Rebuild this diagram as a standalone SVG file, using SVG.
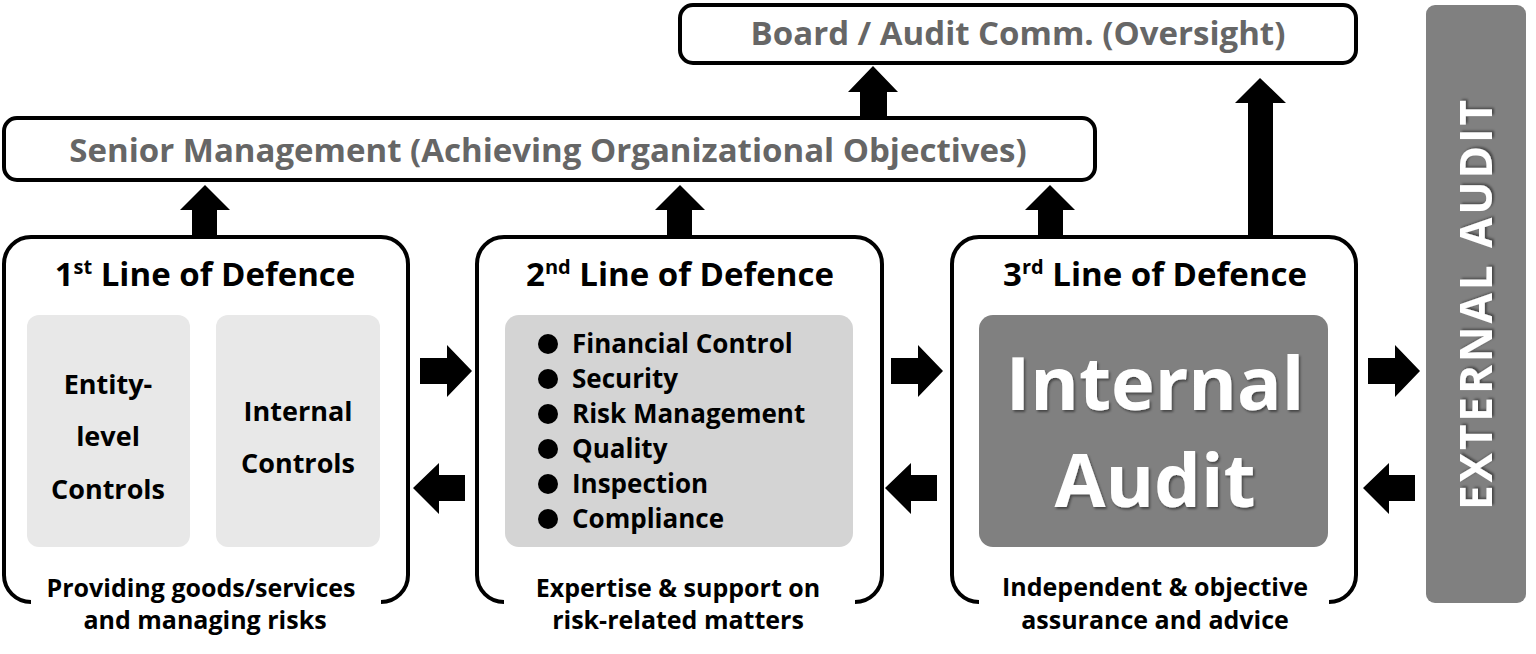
<svg xmlns="http://www.w3.org/2000/svg" width="1536" height="654" viewBox="0 0 1536 654">
<defs>
<style>
.frame{fill:#fff;stroke:#000;stroke-width:4}
.open{fill:none;stroke:#000;stroke-width:4}
.head{font-family:"Open Sans","Liberation Sans",sans-serif;font-weight:700;fill:#666;font-size:33px;text-anchor:middle}
.title{font-family:"Open Sans","Liberation Sans",sans-serif;font-weight:700;fill:#000;font-size:33px;text-anchor:middle}
.sup{font-size:20px}
.body{font-family:"Open Sans","Liberation Sans",sans-serif;font-weight:700;fill:#000;font-size:25px}
.inner{font-size:27px}
.list{font-size:26px}
.mid{text-anchor:middle}
.big{font-family:"Open Sans","Liberation Sans",sans-serif;font-weight:700;fill:#fff;font-size:74px;text-anchor:middle}
.arrow{fill:#000}
</style>
<filter id="sh" x="-10%" y="-10%" width="120%" height="130%">
<feDropShadow dx="1.5" dy="2" stdDeviation="1.2" flood-color="#000" flood-opacity="0.45"/>
</filter>
</defs>

<g id="board">
<rect class="frame" x="680" y="5" width="676" height="58" rx="13"/>
<text class="head" x="1018" y="45">Board / Audit Comm. (Oversight)</text>
</g>

<g id="senior">
<rect class="frame" x="4" y="118" width="1091" height="62" rx="13"/>
<text class="head" x="548" y="162">Senior Management (Achieving Organizational Objectives)</text>
</g>

<g id="line1">
<path class="open" d="M31 602 A27 27 0 0 1 4 575 V264 A27 27 0 0 1 31 237 H381 A27 27 0 0 1 408 264 V575 A27 27 0 0 1 381 602"/>
<text class="title" x="205" y="286">1<tspan class="sup" dy="-12">st</tspan><tspan dy="12"> Line of Defence</tspan></text>
<rect x="27" y="315" width="163" height="232" rx="12" fill="#e8e8e8"/>
<rect x="216" y="315" width="164" height="232" rx="12" fill="#e8e8e8"/>
<text class="body inner mid" x="108" y="394">Entity-</text>
<text class="body inner mid" x="108" y="446">level</text>
<text class="body inner mid" x="108" y="499">Controls</text>
<text class="body inner mid" x="298" y="421">Internal</text>
<text class="body inner mid" x="298" y="473">Controls</text>
<text class="body mid" x="201" y="597">Providing goods/services</text>
<text class="body mid" x="205" y="629">and managing risks</text>
</g>

<g id="line2">
<path class="open" d="M504 602 A27 27 0 0 1 477 575 V264 A27 27 0 0 1 504 237 H855 A27 27 0 0 1 882 264 V575 A27 27 0 0 1 855 602"/>
<text class="title" x="680" y="286">2<tspan class="sup" dy="-12">nd</tspan><tspan dy="12"> Line of Defence</tspan></text>
<rect x="505" y="315" width="348" height="232" rx="14" fill="#d4d4d4"/>
<g fill="#000">
<circle cx="548" cy="344" r="10"/>
<circle cx="548" cy="379" r="10"/>
<circle cx="548" cy="414" r="10"/>
<circle cx="548" cy="449" r="10"/>
<circle cx="548" cy="484" r="10"/>
<circle cx="548" cy="519" r="10"/>
</g>
<text class="body list" x="572" y="353">Financial Control</text>
<text class="body list" x="572" y="388">Security</text>
<text class="body list" x="572" y="423">Risk Management</text>
<text class="body list" x="572" y="458">Quality</text>
<text class="body list" x="572" y="493">Inspection</text>
<text class="body list" x="572" y="528">Compliance</text>
<text class="body mid" x="678" y="597">Expertise &amp; support on</text>
<text class="body mid" x="678" y="629">risk-related matters</text>
</g>

<g id="line3">
<path class="open" d="M979 602 A27 27 0 0 1 952 575 V264 A27 27 0 0 1 979 237 H1329 A27 27 0 0 1 1356 264 V575 A27 27 0 0 1 1329 602"/>
<text class="title" x="1155" y="286">3<tspan class="sup" dy="-12">rd</tspan><tspan dy="12"> Line of Defence</tspan></text>
<rect x="979" y="315" width="349" height="232" rx="14" fill="#808080"/>
<text class="big" x="1155" y="410" filter="url(#sh)">Internal</text>
<text class="big" x="1155" y="507" filter="url(#sh)">Audit</text>
<text class="body mid" x="1155" y="596">Independent &amp; objective</text>
<text class="body mid" x="1155" y="629">assurance and advice</text>
</g>

<g id="external">
<rect x="1426" y="5" width="100" height="598" rx="9" fill="#808080"/>
<text transform="translate(1492 305) rotate(-90)" filter="url(#sh)" font-family="'Open Sans','Liberation Sans',sans-serif" font-weight="700" font-size="44" fill="#fff" text-anchor="middle" textLength="410" lengthAdjust="spacing">EXTERNAL AUDIT</text>
</g>

<g id="connectors" class="arrow">
<polygon points="192,237 192,210 180,210 205,185 230,210 217,210 217,237"/>
<polygon points="667,237 667,210 655,210 680,185 705,210 692,210 692,237"/>
<polygon points="1038,237 1038,210 1025,210 1050,185 1075,210 1063,210 1063,237"/>
<polygon points="860,116 860,92 848,92 873,66 898,92 887,92 887,116"/>
<polygon points="1248,237 1248,103 1235,103 1260,78 1286,103 1273,103 1273,237"/>
<polygon points="420,358 447,358 447,345 472,371 447,397 447,384 420,384"/>
<polygon points="465,475 439,475 439,463 413,488 439,514 439,501 465,501"/>
<polygon points="891,358 918,358 918,345 943,371 918,397 918,384 891,384"/>
<polygon points="937,475 911,475 911,463 885,488 911,514 911,501 937,501"/>
<polygon points="1368,358 1395,358 1395,345 1420,371 1395,397 1395,384 1368,384"/>
<polygon points="1415,475 1389,475 1389,463 1363,488 1389,514 1389,501 1415,501"/>
</g>
</svg>
